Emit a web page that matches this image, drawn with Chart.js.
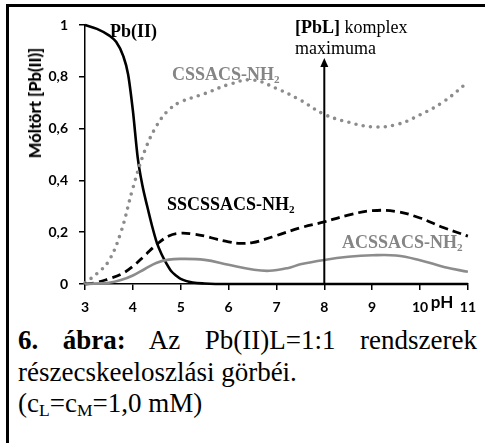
<!DOCTYPE html>
<html>
<head>
<meta charset="utf-8">
<script src="https://cdn.jsdelivr.net/npm/chart.js@4.4.0/dist/chart.umd.min.js"></script>
<style>
  body { margin: 0; background: #fff; }
  #lap { position: relative; width: 485px; height: 443px; overflow: hidden; background: #fff; }
  #grafikon { position: absolute; left: 0; top: 0; }
  .keret-fent { position: absolute; left: 6px; top: 4px; width: 479px; height: 3px; background: #000; }
  .keret-bal { position: absolute; left: 6px; top: 4px; width: 3px; height: 439px; background: #000; }
  .felirat { position: absolute; font-family: "Liberation Serif", serif; font-size: 18px; line-height: 18px; white-space: nowrap; font-weight: bold; color: #000; }
  .felirat sub { font-size: 0.62em; vertical-align: -0.25em; line-height: 0; }
  .szurke { color: #858585; }
  .normal { font-weight: normal; }
  #ytengely { position: absolute; left: 35px; top: 103px; transform: translate(-50%, -50%) rotate(-90deg);
              font-family: Lato, sans-serif; font-weight: 900; font-size: 16.5px; white-space: nowrap; }
  #ph { position: absolute; left: 442px; top: 301px; transform: translate(-50%, -50%);
        font-family: Lato, sans-serif; font-weight: bold; font-size: 17px; }
  #abra { position: absolute; left: 18px; top: 325px; width: 459px; font-family: "Liberation Serif", serif;
          font-size: 27px; line-height: 31.7px; color: #000; }
  #abra .sor1 { text-align: justify; text-align-last: justify; }
  #abra sub { font-size: 0.65em; vertical-align: -0.2em; line-height: 0; }
</style>
</head>
<body>
<div id="lap">
  <canvas id="grafikon" width="485" height="324"></canvas>
  <div class="keret-fent"></div>
  <div class="keret-bal"></div>
  <div id="ytengely">Móltört [Pb(II)]</div>
  <div id="ph">pH</div>
  <div class="felirat" style="left:110px; top:22px;">Pb(II)</div>
  <div class="felirat szurke" style="left:172px; top:65px;">CSSACS-NH<sub>2</sub></div>
  <div class="felirat" style="left:167px; top:195px;">SSCSSACS-NH<sub>2</sub></div>
  <div class="felirat szurke" style="left:342px; top:233px;">ACSSACS-NH<sub>2</sub></div>
  <div class="felirat" style="left:295px; top:17px; line-height:21px;">[PbL]<span class="normal"> komplex<br>maximuma</span></div>
  <div id="abra">
    <div class="sor1"><b>6. ábra:</b> Az Pb(II)L=1:1 rendszerek</div>
    <div>részecskeeloszlási görbéi.</div>
    <div>(c<sub>L</sub>=c<sub>M</sub>=1,0 mM)</div>
  </div>
</div>
<script>
// pH értékek és móltörtek, leolvasva
const phPb = [3, 3.25, 3.5, 3.65, 3.8, 3.9, 4.0, 4.1, 4.2, 4.3, 4.4, 4.5, 4.6, 4.7, 4.8, 4.9, 5.0, 5.25, 5.5, 6, 7, 8, 9, 10, 11];
const pbII = [1.0, 0.985, 0.96, 0.935, 0.88, 0.81, 0.67, 0.49, 0.38, 0.30, 0.225, 0.16, 0.115, 0.08, 0.05, 0.033, 0.02, 0.006, 0.002, 0, 0, 0, 0, 0, 0];

const phCss = [3, 3.25, 3.5, 3.75, 4, 4.25, 4.5, 4.75, 5, 5.5, 6, 6.5, 7, 7.5, 8, 8.5, 9, 9.5, 10, 10.5, 11];
const cssacs = [0.005, 0.04, 0.09, 0.2, 0.37, 0.515, 0.612, 0.672, 0.703, 0.735, 0.77, 0.788, 0.755, 0.71, 0.655, 0.625, 0.607, 0.615, 0.653, 0.705, 0.78];

const phSs = [3, 3.25, 3.5, 3.75, 4, 4.25, 4.5, 4.75, 5, 5.25, 5.5, 5.75, 6, 6.25, 6.5, 6.75, 7, 7.5, 8, 8.5, 9, 9.5, 10, 10.5, 11];
const sscssacs = [0, 0.006, 0.02, 0.037, 0.068, 0.11, 0.153, 0.185, 0.196, 0.193, 0.185, 0.173, 0.163, 0.157, 0.16, 0.172, 0.187, 0.217, 0.24, 0.266, 0.283, 0.28, 0.255, 0.217, 0.185];

const phAc = [3, 3.5, 3.75, 4, 4.25, 4.5, 4.75, 5, 5.5, 6, 6.5, 6.85, 7.25, 7.5, 8, 8.5, 9, 9.5, 10, 10.5, 11];
const acssacs = [0, 0.005, 0.015, 0.033, 0.058, 0.082, 0.094, 0.097, 0.093, 0.074, 0.056, 0.051, 0.062, 0.076, 0.093, 0.105, 0.111, 0.11, 0.092, 0.066, 0.047];

const xTickLabels = ['3', '4', '5', '6', '7', '8', '9', '10', '11'];
const yTickLabels = ['0', '0,2', '0,4', '0,6', '0,8', '1'];

// [PbL] komplex maximuma nyíl
const nyilPh = 8;
const nyilTeteje = 0.873;

function pontok(xs, ys) {
    return xs.map((x, i) => ({ x: x, y: ys[i] }));
}

const szurke = '#8c8c8c';

const nyilPlugin = {
    id: 'nyil',
    afterDatasetsDraw(chart) {
        const ctx = chart.ctx;
        const x = chart.scales.x.getPixelForValue(nyilPh);
        const y0 = chart.scales.y.getPixelForValue(0);
        const y1 = chart.scales.y.getPixelForValue(nyilTeteje);
        ctx.save();
        ctx.strokeStyle = '#000';
        ctx.fillStyle = '#000';
        ctx.lineWidth = 2;
        ctx.beginPath();
        ctx.moveTo(x, y0);
        ctx.lineTo(x, y1 + 6);
        ctx.stroke();
        ctx.beginPath();
        ctx.moveTo(x, y1);
        ctx.lineTo(x - 4, y1 + 9);
        ctx.lineTo(x + 4, y1 + 9);
        ctx.closePath();
        ctx.fill();
        ctx.restore();
    }
};

const tengelyFont = { family: 'Lato', weight: 'bold', size: 14 };

new Chart(document.getElementById('grafikon').getContext('2d'), {
    type: 'line',
    data: {
        datasets: [
            {
                label: 'ACSSACS-NH2',
                data: pontok(phAc, acssacs),
                borderColor: szurke,
                borderWidth: 2.6,
                tension: 0.4,
                pointRadius: 0,
                clip: 4
            },
            {
                label: 'SSCSSACS-NH2',
                data: pontok(phSs, sscssacs),
                borderColor: '#000',
                borderWidth: 2.8,
                borderDash: [9, 5],
                tension: 0.4,
                pointRadius: 0,
                clip: 4
            },
            {
                label: 'CSSACS-NH2',
                data: pontok(phCss, cssacs),
                borderColor: szurke,
                borderWidth: 3.6,
                borderDash: [0, 7.4],
                borderCapStyle: 'round',
                tension: 0.4,
                pointRadius: 0,
                clip: 4
            },
            {
                label: 'Pb(II)',
                data: pontok(phPb, pbII),
                borderColor: '#000',
                borderWidth: 2.6,
                cubicInterpolationMode: 'monotone',
                pointRadius: 0,
                clip: 4
            }
        ]
    },
    options: {
        responsive: false,
        animation: false,
        devicePixelRatio: 1,
        layout: { padding: { top: 25, right: 15, left: 0, bottom: 0 } },
        plugins: {
            legend: { display: false },
            tooltip: { enabled: false }
        },
        scales: {
            x: {
                type: 'linear',
                min: 3,
                max: 11,
                ticks: {
                    stepSize: 1,
                    color: '#000',
                    font: tengelyFont,
                    padding: 9,
                    maxRotation: 0,
                    callback: (v) => xTickLabels[Math.round(v - 3)]
                },
                grid: { drawOnChartArea: false, drawTicks: true, tickLength: 6, color: '#000', lineWidth: 1.5 },
                border: { color: '#000', width: 1.5 },
                afterFit: (s) => { s.height = 40; }
            },
            y: {
                min: 0,
                max: 1,
                ticks: {
                    stepSize: 0.2,
                    color: '#000',
                    font: tengelyFont,
                    padding: 11,
                    callback: (v) => yTickLabels[Math.round(v / 0.2)]
                },
                grid: { drawOnChartArea: false, drawTicks: true, tickLength: 6, color: '#000', lineWidth: 1.5 },
                border: { color: '#000', width: 1.5 },
                afterFit: (s) => { s.width = 85; }
            }
        }
    },
    plugins: [nyilPlugin]
});
</script>
</body>
</html>
